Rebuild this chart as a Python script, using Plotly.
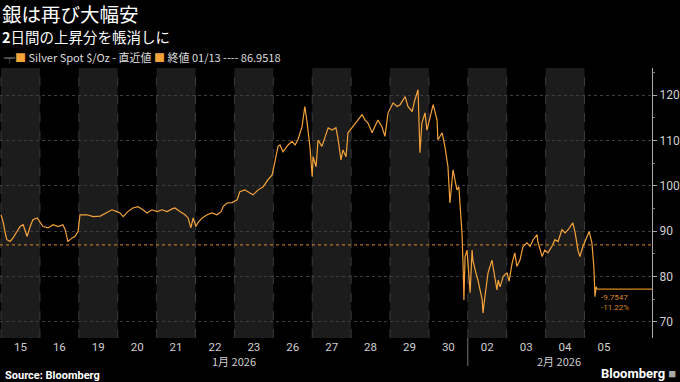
import plotly.graph_objects as go

# ---- data ----
day_labels = ["15", "16", "19", "20", "21", "22", "23", "26", "27", "28", "29", "30", "02", "03", "04", "05"]
month_labels = ["1月 2026", "2月 2026"]

# position in trading days (0 = start of 15 Jan session) and price in $/oz
pos = [0.00, 0.06, 0.10, 0.15, 0.23, 0.31, 0.41, 0.49, 0.57, 0.67, 0.75, 0.82, 0.93,
       1.00, 1.08, 1.21, 1.34, 1.47, 1.59, 1.65, 1.70, 1.72, 1.83, 1.90, 1.98,
       2.03, 2.21, 2.37, 2.55, 2.72, 2.85, 2.98,
       3.06, 3.14, 3.26, 3.39, 3.52, 3.65, 3.75, 3.88,
       4.01, 4.14, 4.27, 4.40, 4.47, 4.60, 4.73, 4.81, 4.88, 4.94,
       5.01, 5.06, 5.17, 5.30, 5.42, 5.55, 5.66, 5.71, 5.81, 5.94,
       6.07, 6.14, 6.27, 6.40, 6.48, 6.61, 6.74, 6.86, 6.97,
       7.04, 7.12, 7.17, 7.25, 7.38, 7.48, 7.56, 7.63, 7.74, 7.81, 7.87, 7.94,
       8.00, 8.02, 8.10, 8.15, 8.25, 8.33, 8.41, 8.51, 8.61, 8.66, 8.74, 8.79, 8.87, 8.92, 8.97,
       9.05, 9.15, 9.28, 9.36, 9.43, 9.54, 9.61, 9.69, 9.79, 9.87, 9.95,
       10.08, 10.18, 10.26, 10.39, 10.46, 10.57, 10.64, 10.72, 10.77, 10.82, 10.90, 10.95,
       11.03, 11.11, 11.21, 11.23, 11.34, 11.41, 11.49, 11.54, 11.62, 11.72, 11.77, 11.83, 11.85, 11.88, 11.90, 11.93, 11.98,
       12.01, 12.06, 12.11, 12.13, 12.19, 12.26, 12.37, 12.39, 12.44, 12.52, 12.62, 12.65, 12.70, 12.75, 12.78, 12.83, 12.91,
       13.01, 13.06, 13.14, 13.21, 13.26, 13.34, 13.42, 13.52, 13.60, 13.68, 13.78, 13.80, 13.91, 13.98,
       14.06, 14.16, 14.24, 14.32, 14.42, 14.50, 14.58, 14.70, 14.76, 14.83, 14.88, 14.96,
       15.06, 15.12, 15.17, 15.19, 15.24, 15.27, 15.30, 15.32]
price = [93.6, 91.8, 89.9, 88.1, 87.7, 88.5, 89.9, 91.0, 91.4, 88.8, 91.0, 92.5, 92.9,
         92.1, 91.0, 90.7, 91.4, 91.0, 91.4, 90.3, 88.5, 87.7, 88.5, 88.8, 89.9,
         93.6, 93.6, 93.2, 93.3, 94.0, 94.7, 94.3,
         94.0, 93.2, 94.3, 95.1, 95.4, 94.7, 94.0, 94.7,
         94.3, 94.7, 94.3, 94.9, 95.1, 94.3, 93.6, 92.9, 90.7, 92.9,
         91.0, 91.8, 92.9, 93.6, 94.0, 93.6, 94.3, 95.4, 96.2, 96.3,
         96.9, 98.7, 99.1, 98.4, 98.0, 99.1, 99.8, 101.3, 102.4,
         105.3, 108.7, 109.0, 107.5, 109.0, 109.8, 109.0, 110.1, 113.1, 117.5, 113.9, 108.7,
         102.0, 106.4, 104.2, 110.1, 108.7, 110.9, 112.8, 112.3, 112.8, 110.6, 105.7, 107.9, 106.4, 111.7, 112.3,
         113.1, 114.2, 115.7, 114.5, 113.9, 111.7, 113.1, 114.5, 113.1, 110.9, 116.1,
         118.3, 117.5, 117.9, 119.7, 117.5, 116.4, 119.0, 121.2, 107.3, 113.9, 116.1, 112.3,
         115.3, 117.9, 114.5, 110.1, 111.7, 108.7, 104.2, 96.2, 103.5, 99.1, 99.8, 92.5, 89.6, 82.2, 74.8, 84.4, 85.8,
         82.2, 76.4, 85.8, 83.6, 81.4, 79.2, 74.8, 71.9, 75.5, 80.8, 83.6, 82.2, 80.0, 77.0, 79.2, 77.7, 80.0,
         80.8, 78.9, 83.0, 85.2, 82.2, 83.6, 86.6, 87.4, 86.6, 88.1, 89.2, 87.7, 84.4, 85.8,
         85.2, 86.6, 88.1, 87.7, 90.3, 89.6, 90.3, 91.8, 89.6, 85.8, 84.4, 86.6,
         88.8, 89.9, 88.1, 87.4, 82.2, 75.5, 77.7, 77.1973]

prev_close = 86.9518
change_abs = "-9.7547"
change_pct = "-11.22%"
y_ticks = [70, 80, 90, 100, 110, 120]

# ---- styling ----
ORANGE = "#f4a23a"
DARK_ORANGE = "#d98a24"
GRAY_TXT = "#cfcfcf"
CJK = "Noto Sans CJK JP, Noto Sans, sans-serif"
LAT = "Roboto, Noto Sans, sans-serif"

W, H = 680, 382
ML, MR, MT, MB = 0, 28, 68, 44
pw, ph = W - ML - MR, H - MT - MB


def px_x(fx):
    """figure pixel x -> plot paper coordinate"""
    return (fx - ML) / pw


def px_y(fy):
    """figure pixel y (from top) -> plot paper coordinate"""
    return (H - fy - MB) / ph


fig = go.Figure()
fig.add_trace(go.Scatter(x=pos, y=price, mode="lines",
                         line=dict(color=ORANGE, width=1.2), hoverinfo="skip",
                         showlegend=False))

n_days = len(day_labels)
shapes = []
for i in range(n_days):
    if i % 2 == 0:
        shapes.append(dict(type="rect", xref="x", yref="paper", x0=i, x1=i + 1, y0=0, y1=1,
                           fillcolor="#1c1c1c", line=dict(width=0), layer="below"))
for i in range(n_days):
    shapes.append(dict(type="line", xref="x", yref="paper", x0=i, x1=i, y0=0, y1=1,
                       line=dict(color="#3a3a3a", width=1, dash="dash"), layer="below"))
# previous close line
shapes.append(dict(type="line", xref="paper", yref="y", x0=0, x1=1, y0=prev_close, y1=prev_close,
                   line=dict(color=DARK_ORANGE, width=1, dash="dot")))
# last price line
shapes.append(dict(type="line", xref="x", yref="y", x0=pos[-1], x1=16.735, y0=price[-1], y1=price[-1],
                   line=dict(color=DARK_ORANGE, width=1.2)))
# month divider
shapes.append(dict(type="line", xref="x", yref="paper", x0=12, x1=12, y0=0, y1=px_y(366),
                   line=dict(color="#777777", width=1)))

annotations = []


def add_px(text, fx, fy, size, color, family, xanchor="left"):
    annotations.append(dict(text=text, x=px_x(fx), y=px_y(fy), xref="paper", yref="paper",
                            xanchor=xanchor, yanchor="middle", showarrow=False,
                            font=dict(size=size, color=color, family=family)))


add_px("銀は再び大幅安", 0, 13.5, 19.5, "#ffffff", CJK)
add_px("<b>2</b>日間の上昇分を帳消しに", 0, 36.5, 14.5, "#ffffff", CJK)
add_px("<span style='color:#888'>╤</span><span style='color:%s'>■</span> Silver Spot $/Oz - 直近値" % ORANGE,
       2, 57, 11, "#dddddd", CJK)
add_px("<span style='color:%s'>■</span> 終値 01/13 ---- 86.9518" % ORANGE, 152, 57, 11, "#dddddd", CJK)
add_px("<b>Source: Bloomberg</b>", 3, 375, 11, "#ffffff", LAT)
add_px("<b>Bloomberg</b> <span style='color:#aaa'>■</span>", 678, 373, 13, "#ffffff", LAT, xanchor="right")

# change annotation
annotations.append(dict(text=change_abs, x=pos[-1] + 0.05, y=price[-1] - 0.5, xref="x", yref="y",
                        xanchor="left", yanchor="top", showarrow=False,
                        font=dict(size=8, color=DARK_ORANGE, family=LAT)))
annotations.append(dict(text=change_pct, x=pos[-1] + 0.05, y=price[-1] - 2.6, xref="x", yref="y",
                        xanchor="left", yanchor="top", showarrow=False,
                        font=dict(size=8, color=DARK_ORANGE, family=LAT)))
# month labels
for txt, xc in zip(month_labels, [6.0, 14.35]):
    annotations.append(dict(text=txt, x=xc, y=px_y(361), xref="x", yref="paper",
                            xanchor="center", yanchor="middle", showarrow=False,
                            font=dict(size=11, color=GRAY_TXT, family=CJK)))

fig.update_layout(
    width=W, height=H,
    margin=dict(l=ML, r=MR, t=MT, b=MB),
    paper_bgcolor="#000000", plot_bgcolor="#000000",
    shapes=shapes, annotations=annotations,
    showlegend=False,
    xaxis=dict(range=[-0.026, 16.735], tickvals=[i + 0.5 for i in range(n_days)], ticktext=day_labels,
               showgrid=False, zeroline=False, showline=False, ticks="",
               tickfont=dict(size=11.5, color=GRAY_TXT, family=LAT), fixedrange=True),
    yaxis=dict(range=[66.4, 126.0], side="right", tickvals=y_ticks,
               showgrid=True, gridcolor="#3e3e3e", griddash="dot", gridwidth=1,
               zeroline=False, showline=True, linecolor="#aaaaaa", linewidth=1,
               ticks="outside", ticklen=4, tickcolor="#aaaaaa",
               minor=dict(dtick=5, ticks="outside", ticklen=2, tickcolor="#777777", showgrid=False),
               tickfont=dict(size=12, color=GRAY_TXT, family=LAT), fixedrange=True),
)

fig.write_html("out.html", config={"displayModeBar": False},
               post_script="document.body.style.margin='0';document.body.style.overflow='hidden';")
